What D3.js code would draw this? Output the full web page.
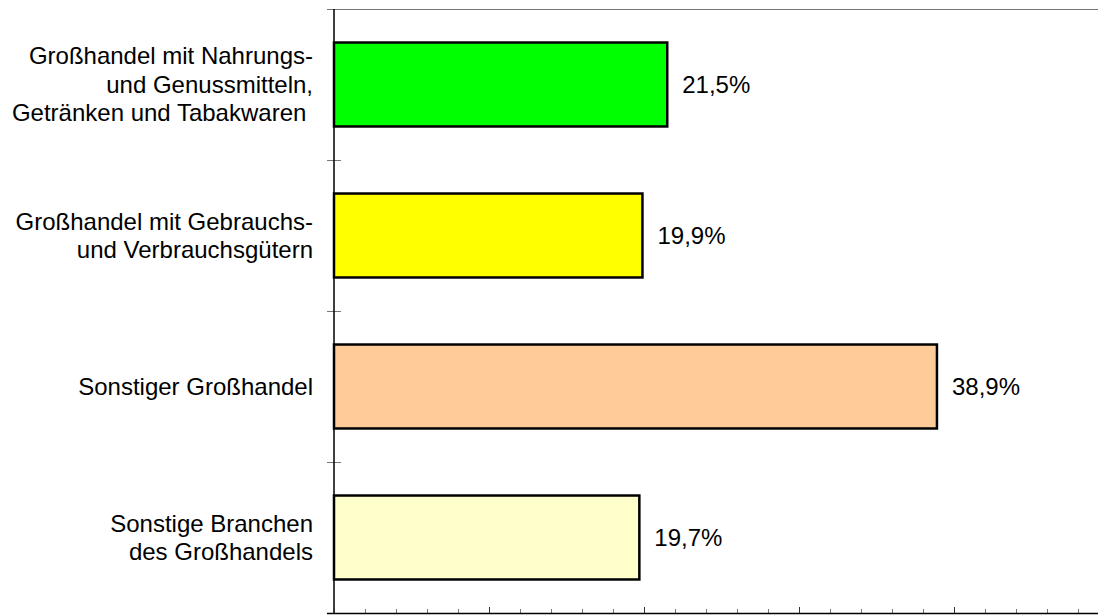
<!DOCTYPE html>
<html>
<head>
<meta charset="utf-8">
<script src="https://cdn.jsdelivr.net/npm/d3@7"></script>
<style>
  body { margin: 0; background: #fff; }
  svg { display: block; font-family: "Liberation Sans", Arial, sans-serif; }
  text { fill: #000; }
</style>
</head>
<body>
<svg></svg>
<script>
// data
const categories = [
  ["Großhandel mit Nahrungs-", "und Genussmitteln,", "Getränken und Tabakwaren "],
  ["Großhandel mit Gebrauchs-", "und Verbrauchsgütern"],
  ["Sonstiger Großhandel"],
  ["Sonstige Branchen", "des Großhandels"]
]
const values = [21.5, 19.9, 38.9, 19.7]
const valueLabels = ["21,5%", "19,9%", "38,9%", "19,7%"]
const barColors = ["#00ff00", "#ffff00", "#ffcc99", "#ffffcc"]

const W = 1098, H = 616
const plotLeft = 334, plotTop = 9, plotBottom = 613

const svg = d3.select("svg")
    .attr("width", W)
    .attr("height", H)

const x = d3.scaleLinear()
    .domain([0, 50])
    .range([plotLeft, plotLeft + 50 * 15.5])

const y = d3.scaleBand()
    .domain(d3.range(categories.length))
    .range([plotTop, plotBottom])
    .paddingInner(0.444)
    .paddingOuter(0.222)

// band boundaries for the category ticks
const yEdge = d3.scaleLinear()
    .domain([0, categories.length])
    .range([plotTop, plotBottom])

// top border line
svg.append("line")
    .attr("x1", plotLeft - 7)
    .attr("x2", W)
    .attr("y1", plotTop + 0.5)
    .attr("y2", plotTop + 0.5)
    .attr("stroke", "#777")
    .attr("stroke-width", 1)

// bars
svg.selectAll("rect.bar")
    .data(values)
    .enter()
    .append("rect")
    .attr("class", "bar")
    .attr("x", x(0))
    .attr("y", (d, i) => y(i))
    .attr("width", d => x(d) - x(0))
    .attr("height", y.bandwidth())
    .style("fill", (d, i) => barColors[i])
    .style("stroke", "#000")
    .style("stroke-width", 2.5)

// value labels
svg.selectAll("text.value")
    .data(values)
    .enter()
    .append("text")
    .attr("class", "value")
    .attr("x", d => x(d) + 15)
    .attr("y", (d, i) => y(i) + y.bandwidth() / 2)
    .attr("dy", "0.35em")
    .style("font-size", "24px")
    .text((d, i) => valueLabels[i])

// category labels
const catLabel = svg.selectAll("text.cat")
    .data(categories)
    .enter()
    .append("text")
    .attr("class", "cat")
    .attr("text-anchor", "end")
    .attr("xml:space", "preserve")
    .style("font-size", "24px")

catLabel.selectAll("tspan")
    .data((d, i) => d.map((line, j) => ({line, j, n: d.length, i})))
    .enter()
    .append("tspan")
    .attr("x", 313)
    .attr("y", d => y(d.i) + y.bandwidth() / 2 + (d.j - (d.n - 1) / 2) * 28.5)
    .attr("dy", "0.35em")
    .text(d => d.line)

// left axis ticks (crossing)
svg.append("g")
    .attr("transform", `translate(${plotLeft},0)`)
    .call(d3.axisLeft(yEdge).tickValues(d3.range(1, categories.length + 1)).tickSize(7).tickFormat(""))
    .call(g => g.select(".domain").remove())
    .call(g => g.selectAll(".tick line").attr("x2", 7).attr("x1", -7).attr("stroke", "#777"))

svg.append("line")
    .attr("x1", plotLeft)
    .attr("x2", plotLeft)
    .attr("y1", plotTop)
    .attr("y2", plotBottom)
    .attr("stroke", "#000")
    .attr("stroke-width", 1.5)

// bottom axis, ticks pointing up
const minor = d3.range(0, 51, 2).filter(v => v % 10 !== 0)
const major = d3.range(0, 51, 10)

svg.append("g")
    .attr("transform", `translate(0,${plotBottom})`)
    .call(d3.axisTop(x).tickValues(minor).tickSize(4).tickFormat(""))
    .call(g => g.select(".domain").remove())
    .call(g => g.selectAll(".tick line").attr("stroke", "#777"))

svg.append("g")
    .attr("transform", `translate(0,${plotBottom})`)
    .call(d3.axisTop(x).tickValues(major).tickSize(6).tickFormat(""))
    .call(g => g.select(".domain").remove())
    .call(g => g.selectAll(".tick line").attr("stroke", "#333"))

svg.append("line")
    .attr("x1", plotLeft - 7)
    .attr("x2", W)
    .attr("y1", plotBottom + 0.5)
    .attr("y2", plotBottom + 0.5)
    .attr("stroke", "#000")
    .attr("stroke-width", 1.5)
</script>
</body>
</html>
